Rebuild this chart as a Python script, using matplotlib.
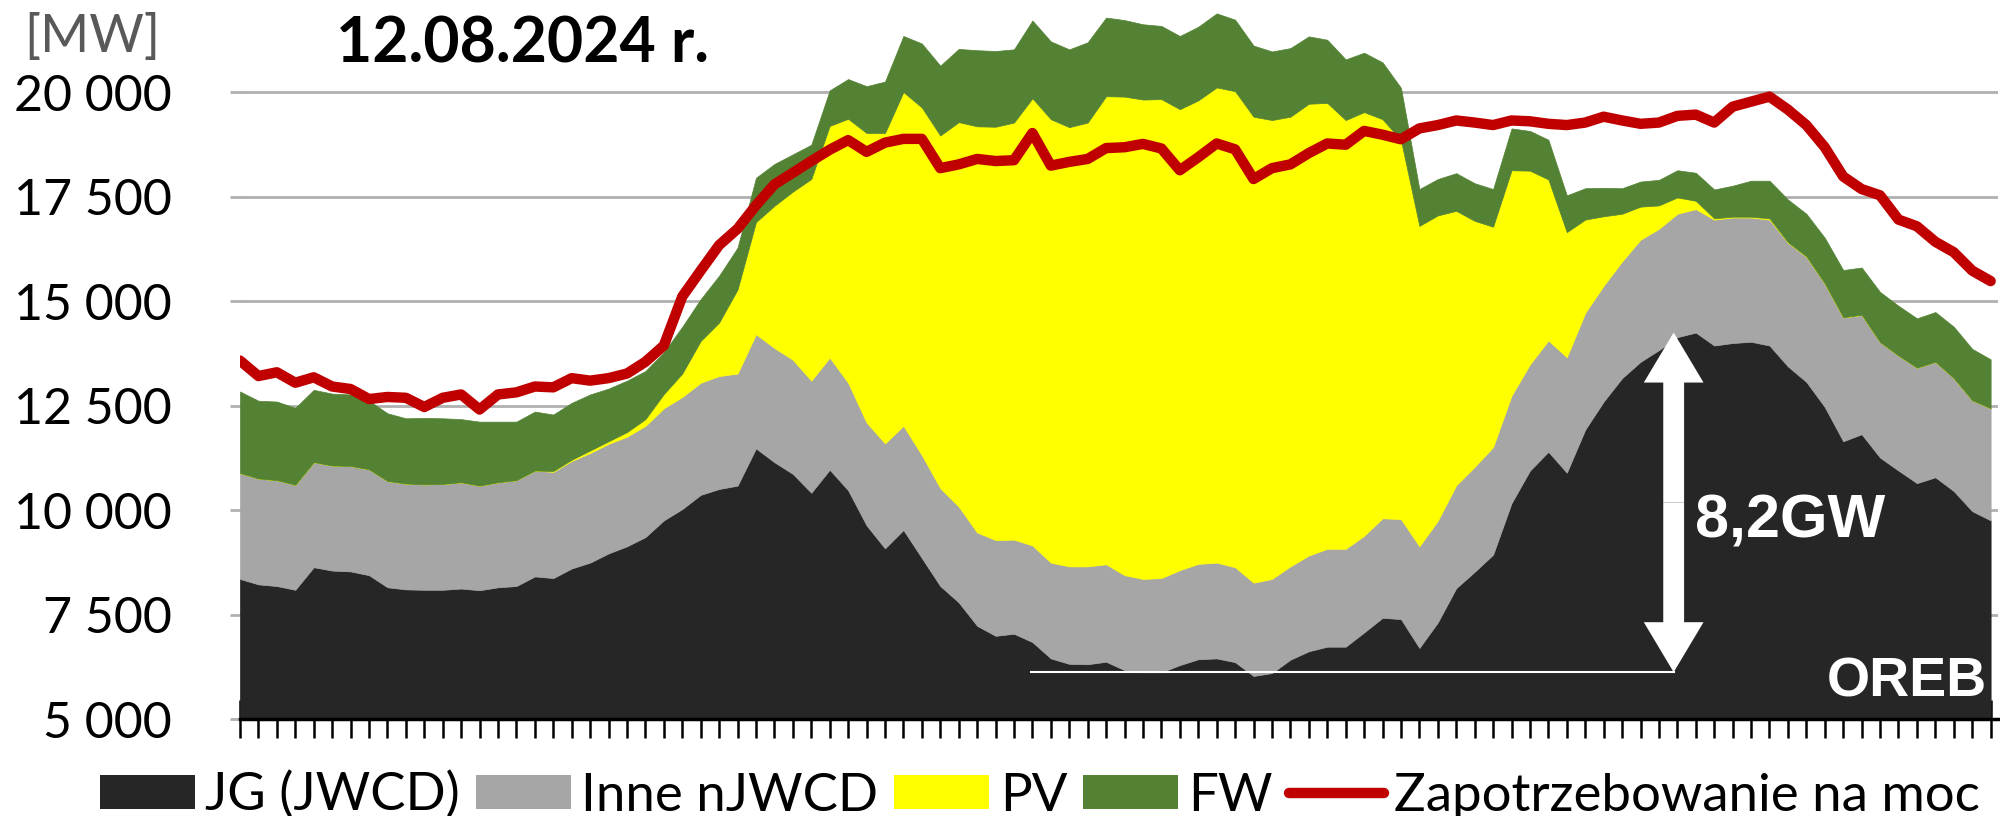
#Import the libraries needed for the chart
import numpy as np
import matplotlib
matplotlib.use('Agg')
import matplotlib.pyplot as plt
from matplotlib.patches import Patch
from matplotlib.lines import Line2D

plt.rcParams['font.family'] = ['Lato', 'DejaVu Sans']

#Data, 96 quarter-hours of 12.08.2024 [MW]
jg = [8360, 8230, 8190, 8100, 8640, 8560, 8540, 8450, 8160, 8110,
      8100, 8100, 8130, 8090, 8160, 8190, 8420, 8380, 8610, 8750,
      8970, 9140, 9360, 9760, 10030, 10370, 10510, 10590, 11480, 11150,
      10870, 10420, 10970, 10480, 9640, 9090, 9530, 8860, 8190, 7800,
      7240, 7000, 7050, 6850, 6460, 6330, 6320, 6380, 6180, 6130,
      6130, 6300, 6440, 6460, 6370, 6040, 6110, 6430, 6630, 6740,
      6740, 7080, 7430, 7400, 6710, 7320, 8140, 8530, 8940, 10170,
      10950, 11400, 10900, 11930, 12600, 13160, 13550, 13830, 14140, 14250,
      13940, 14000, 14030, 13940, 13440, 13070, 12470, 11650, 11820, 11260,
      10950, 10650, 10790, 10460, 9980, 9760]

inne = [2530, 2530, 2530, 2510, 2510, 2510, 2520, 2530, 2540, 2530,
        2520, 2530, 2540, 2500, 2510, 2530, 2530, 2540, 2570, 2620,
        2620, 2620, 2660, 2680, 2680, 2680, 2700, 2680, 2730, 2730,
        2730, 2680, 2680, 2570, 2460, 2510, 2490, 2460, 2340, 2290,
        2230, 2290, 2250, 2310, 2290, 2330, 2340, 2330, 2270, 2230,
        2250, 2270, 2280, 2290, 2270, 2230, 2250, 2230, 2290, 2340,
        2340, 2310, 2380, 2390, 2430, 2430, 2460, 2510, 2570, 2570,
        2540, 2660, 2760, 2790, 2770, 2790, 2920, 2900, 2950, 2950,
        3010, 3000, 2970, 3010, 2960, 2990, 2950, 2960, 2850, 2760,
        2750, 2760, 2760, 2700, 2650, 2680]

pv = [0, 0, 0, 0, 0, 0, 0, 0, 0, 0,
      0, 0, 0, 0, 0, 0, 0, 20, 30, 60,
      60, 110, 160, 340, 560, 1000, 1280, 2010, 2680, 3400,
      4020, 4820, 5540, 6310, 6920, 7420, 7980, 8310, 8430, 9190,
      9710, 9880, 9970, 10690, 10600, 10500, 10610, 11190, 11440, 11460,
      11450, 11020, 11080, 11360, 11380, 11140, 10970, 10750, 10800, 10660,
      10250, 10130, 9540, 9060, 7660, 7300, 6560, 5880, 5270, 5390,
      4630, 3850, 2990, 2230, 1660, 1140, 790, 560, 390, 200,
      30, 20, 20, 30, 10, 10, 5, 5, 5, 0,
      0, 0, 0, 0, 0, 0]

fw = [1950, 1860, 1880, 1840, 1730, 1720, 1710, 1640, 1620, 1560,
      1590, 1570, 1510, 1530, 1450, 1400, 1410, 1350, 1360, 1340,
      1260, 1230, 1150, 1000, 1120, 1000, 1120, 1000, 1060, 1000,
      890, 820, 850, 950, 1120, 1230, 1340, 1530, 1670, 1750,
      1820, 1810, 1750, 1860, 1860, 1860, 1920, 1880, 1830, 1800,
      1750, 1750, 1760, 1770, 1710, 1700, 1640, 1640, 1610, 1510,
      1450, 1420, 1360, 1250, 880, 870, 900, 900, 900, 1000,
      950, 950, 880, 750, 680, 610, 600, 610, 650, 670,
      690, 740, 860, 900, 1020, 1020, 1090, 1130, 1130, 1200,
      1190, 1180, 1190, 1230, 1230, 1170]

demand = [13580, 13210, 13300, 13050, 13180, 12960, 12900, 12660, 12710, 12690,
          12470, 12690, 12770, 12410, 12770, 12820, 12960, 12940, 13160, 13100,
          13160, 13270, 13550, 13940, 15110, 15730, 16340, 16730, 17290, 17790,
          18070, 18350, 18620, 18850, 18570, 18790, 18880, 18880, 18180, 18270,
          18400, 18350, 18370, 19020, 18240, 18330, 18400, 18660, 18680, 18760,
          18650, 18130, 18440, 18770, 18630, 17920, 18180, 18270, 18540, 18770,
          18740, 19070, 18980, 18870, 19130, 19210, 19320, 19270, 19210, 19320,
          19300, 19240, 19210, 19270, 19410, 19320, 19240, 19270, 19430, 19460,
          19270, 19650, 19770, 19890, 19580, 19210, 18680, 17980, 17680, 17530,
          16950, 16790, 16420, 16170, 15730, 15480]

labels = ['JG (JWCD)', 'Inne nJWCD', 'PV', 'FW', 'Zapotrzebowanie na moc']
colors = ['#262626', '#A6A6A6', '#FFFF00', '#548235', '#C00000']
y_ticks = [5000, 7500, 10000, 12500, 15000, 17500, 20000]

#8,2GW annotation: lowest and highest JG level
oreb_low = 6130
oreb_high = 14250
arrow_pos = 77.8
line_start = 42.9

x = np.arange(len(jg))

fig = plt.figure(figsize=(20, 8.16), dpi=100)
ax = fig.add_axes([0.12, 0.1183, 0.879, 0.8817])

#Stacked areas and the demand line
ax.stackplot(x, jg, inne, pv, fw, colors=colors[:4], edgecolor='face', linewidth=0.5)
ax.plot(x, demand, color=colors[4], lw=7.5, zorder=4,
        solid_joinstyle='round', solid_capstyle='round')

ax.set_xlim(0, 95.4)
ax.set_ylim(5000, 22200)

#Axis formatting
ax.set_yticks(y_ticks)
ax.set_yticklabels([f'{v:,}'.replace(',', ' ') for v in y_ticks])
ax.grid(axis='y', color='#B0B0B0', lw=2)
ax.set_axisbelow(True)
ax.spines['top'].set_visible(False)
ax.spines['right'].set_visible(False)
ax.spines['left'].set_visible(False)
ax.spines['bottom'].set_color('black')
ax.spines['bottom'].set_linewidth(2.5)
ax.spines['bottom'].set_zorder(5)

ax.set_xticks(x)
ax.tick_params(axis='x', direction='inout', length=27, width=1.8,
               color='black', labelbottom=False)
ax.tick_params(axis='y', direction='out', length=7, width=2,
               color='#B0B0B0', labelsize=36, pad=42)

#Annotations: 8,2GW arrow, base line and OREB
ax.plot([line_start, arrow_pos], [oreb_low, oreb_low], color='white', lw=1.5, zorder=5)
mid = (oreb_low + oreb_high) / 2
for tip in (oreb_high, oreb_low):
    ax.annotate('', xy=(arrow_pos, tip), xytext=(arrow_pos, mid),
                arrowprops=dict(arrowstyle='simple,head_length=36,head_width=43,tail_width=15',
                                mutation_scale=1, fc='white', ec='none', lw=0,
                                shrinkA=0, shrinkB=0), zorder=6)
ax.text(78.95, 9360, '8,2GW', color='white', fontsize=44, fontweight='bold',
        family=['Liberation Sans', 'DejaVu Sans'], va='baseline', ha='left', zorder=6)
ax.text(86.1, 5540, 'OREB', color='white', fontsize=40, fontweight='bold',
        family=['Liberation Sans', 'DejaVu Sans'], va='baseline', ha='left', zorder=6)

#Title and unit
fig.text(0.168, 0.9228, '12.08.2024 r.', fontsize=45, fontweight='bold',
         va='baseline', ha='left')
fig.text(0.012, 0.9363, '[MW]', fontsize=38, color='#595959',
         va='baseline', ha='left')

#Legend
handles = [Patch(facecolor=c) for c in colors[:4]]
handles.append(Line2D([0], [0], color=colors[4], lw=7.5, solid_capstyle='round'))
fig.legend(handles, labels, loc='center', bbox_to_anchor=(0.52, 0.025), ncol=5,
           frameon=False, fontsize=38, handlelength=1.8, handleheight=0.62,
           handletextpad=0.2, columnspacing=0.3, borderpad=0, borderaxespad=0)

plt.savefig('out.png', dpi=100)
